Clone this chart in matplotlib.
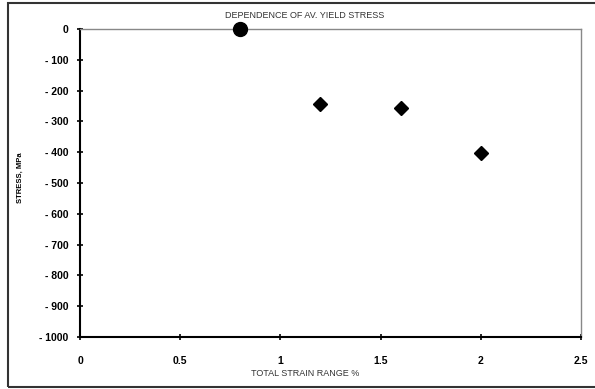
import numpy as np
import matplotlib.pyplot as plt
from matplotlib.patches import Rectangle

# data
circ_x = [0.8]
circ_y = [0]
diam_x = [1.2, 1.6, 2.0]
diam_y = [-243, -255, -401]

xticks = [0, 0.5, 1, 1.5, 2, 2.5]
xticklabels = ['0', '0.5', '1', '1.5', '2', '2.5']
yticks = [0, -100, -200, -300, -400, -500, -600, -700, -800, -900, -1000]

plt.rcParams['font.family'] = 'Liberation Sans'

fig = plt.figure(figsize=(5.95, 3.89), dpi=100)
ax = fig.add_axes([80/595, 1-337/389, 501/595, 308/389])

# outer frame
fig.patches.append(Rectangle((8/595, 2/389), 1.2, 384/389, transform=fig.transFigure,
                             fill=False, edgecolor='#333333', linewidth=1.5))

ax.plot(circ_x, circ_y, 'o', color='black', markersize=10, clip_on=False, zorder=5)
ax.plot(diam_x, diam_y, 'D', color='black', markersize=7, clip_on=False, zorder=5)

ax.set_xlim(0, 2.5)
ax.set_ylim(-1000, 0)
ax.set_xticks(xticks)
ax.set_xticklabels(xticklabels)
ax.set_yticks(yticks)
ax.set_yticklabels(['0'] + ['- %d' % -v for v in yticks[1:]])

for s in ['left', 'bottom']:
    ax.spines[s].set_linewidth(1.5)
    ax.spines[s].set_color('black')
for s in ['top', 'right']:
    ax.spines[s].set_linewidth(1.0)
    ax.spines[s].set_color('#888888')

ax.tick_params(axis='both', direction='inout', length=5, width=1.2, labelsize=7.5)
ax.tick_params(axis='x', pad=11)
ax.tick_params(axis='y', pad=6)
for lab in ax.get_xticklabels() + ax.get_yticklabels():
    lab.set_fontweight('bold')

fig.text(305/595, 1-16/389, 'DEPENDENCE OF AV. YIELD STRESS', ha='center', va='center',
         fontsize=6.5, color='#333333')
fig.text(305/595, 1-374/389, 'TOTAL STRAIN RANGE %', ha='center', va='center',
         fontsize=6.5, color='#333333')
fig.text(20/595, 1-178/389, 'STRESS, MPa', ha='center', va='center', rotation=90,
         fontsize=5.5, fontweight='bold')

fig.savefig('out.png', dpi=100)
